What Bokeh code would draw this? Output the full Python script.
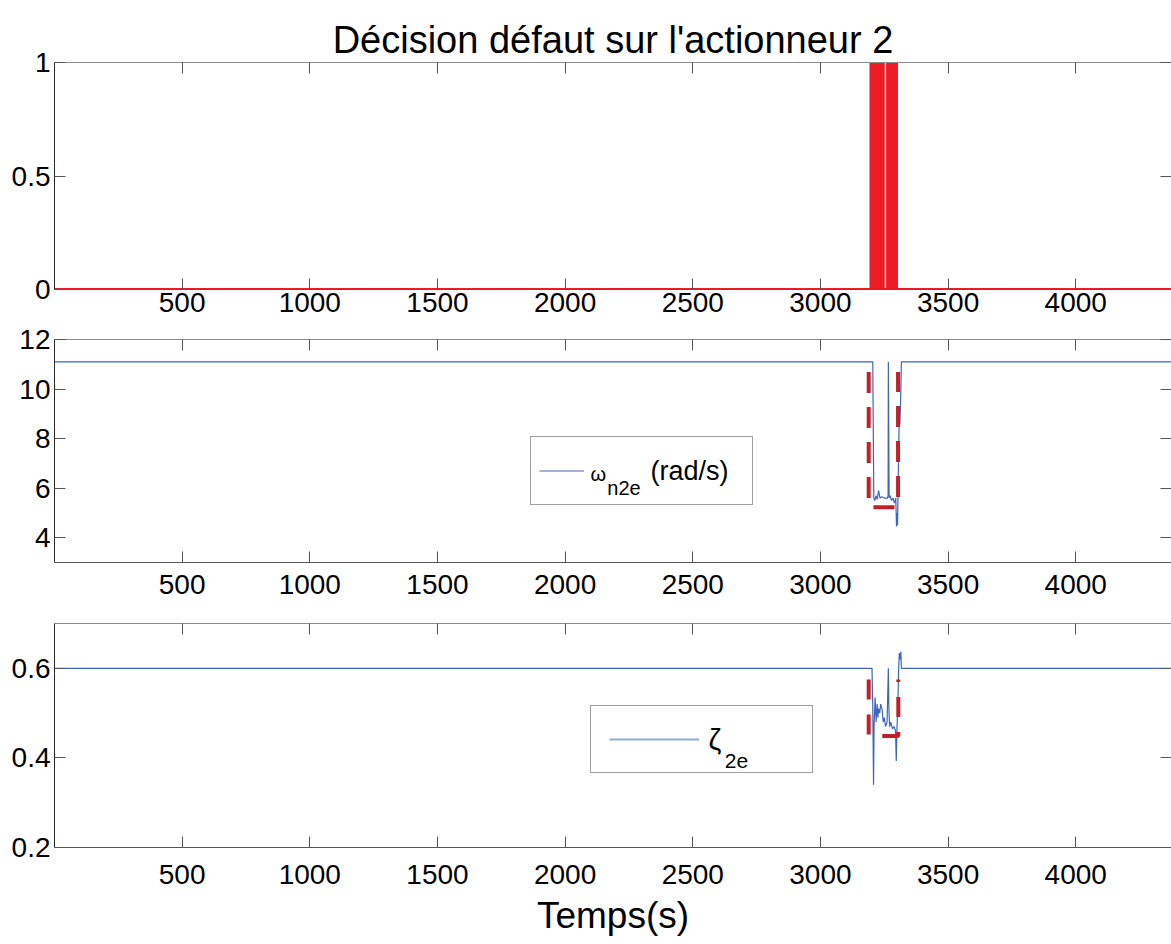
import numpy as np
from bokeh.plotting import figure
from bokeh.layouts import column
from bokeh.models import (Range1d, FixedTicker, LinearAxis, Legend, LegendItem,
                          Label, CustomLabelingPolicy)
from bokeh.core.properties import value
from bokeh.embed import file_html
from bokeh.resources import INLINE

FONT = "Liberation Sans"
TICK_SIZE = "28px"

# ---------------- data ----------------
x_ticks = [500, 1000, 1500, 2000, 2500, 3000, 3500, 4000]
t_end = 4375

# decision (fault on actuator 2)
t_dec = [0, 3198, 3198, 3246, 3246, 3263, 3263, 3298, 3298, 4375]
dec = [0, 0, 1, 1, 0, 0, 1, 1, 0, 0]
dec_ticks = [0, 0.5, 1]

# estimated natural frequency omega_n2e (rad/s)
t_omega = [0, 3205, 3206, 3209, 3213, 3218, 3222, 3228, 3233, 3241, 3250, 3262,
           3265, 3266, 3269, 3273, 3278, 3284, 3290, 3295, 3298, 3300, 3302,
           3305, 3308, 3311, 3314, 3317, 4375]
omega = [11.1, 11.1, 9.6, 5.6, 5.5, 5.7, 5.55, 5.9, 5.6, 5.65, 5.6, 5.6,
         5.7, 11.1, 5.6, 5.7, 5.5, 5.6, 5.4, 5.6, 4.45, 5.0, 4.5,
         6.6, 8.5, 8.6, 9.5, 11.1, 11.1]
omega_ticks = [4, 6, 8, 10, 12]
omega_box_t = [3189, 3189, 3304, 3304]
omega_box_v = [10.69, 5.23, 5.23, 10.69]

# estimated damping zeta_2e
t_zeta = [0, 3202, 3205, 3208, 3210, 3214, 3218, 3222, 3225, 3228, 3232, 3236,
          3241, 3246, 3250, 3255, 3261, 3266, 3268, 3271, 3276, 3282, 3288,
          3294, 3297, 3300, 3303, 3306, 3309, 3312, 3315, 3317, 4375]
zeta = [0.6, 0.6, 0.51, 0.34, 0.47, 0.535, 0.48, 0.52, 0.49, 0.51, 0.50, 0.52,
        0.51, 0.48, 0.49, 0.47, 0.48, 0.6, 0.51, 0.47, 0.48, 0.465, 0.47,
        0.46, 0.393, 0.47, 0.51, 0.594, 0.634, 0.62, 0.637, 0.6, 0.6]
zeta_ticks = [0.2, 0.4, 0.6]
zeta_box_t = [3189, 3189, 3305, 3305]
zeta_box_v = [0.575, 0.449, 0.449, 0.575]

RED = "#ee1c25"
BOXRED = "#c0202a"
BLUE = "#4066bc"
LIGHTBLUE = "#8fa9dc"

xr = Range1d(0, t_end)

HIDE_LABELS = CustomLabelingPolicy(code="""
for (const i of indices) { indices.unset(i) }
return indices
""")


def style_axis(ax):
    ax.major_tick_out = 0
    ax.major_tick_in = 11
    ax.minor_tick_in = 0
    ax.minor_tick_out = 0
    ax.major_tick_line_color = "#555555"
    ax.major_label_text_font = FONT
    ax.major_label_text_font_size = TICK_SIZE
    ax.major_label_text_color = "black"


def tick_only(ax):
    # mirrored box axis of MATLAB: ticks without labels
    ax.major_label_policy = HIDE_LABELS
    ax.major_label_text_font_size = "0px"
    ax.major_label_standoff = 0


def make_fig(height, y0, y1, yticks, btop, bbottom, bottom_stand):
    p = figure(width=1171, height=height, x_range=xr, y_range=Range1d(y0, y1),
               output_backend="svg", toolbar_location=None,
               x_axis_type=None, y_axis_type=None,
               min_border_left=54, min_border_right=0,
               min_border_top=btop, min_border_bottom=bbottom)
    p.outline_line_color = None
    p.background_fill_color = "white"
    p.border_fill_color = "white"

    xb = LinearAxis(ticker=FixedTicker(ticks=x_ticks))
    yl = LinearAxis(ticker=FixedTicker(ticks=yticks))
    xa = LinearAxis(ticker=FixedTicker(ticks=x_ticks))
    yr = LinearAxis(ticker=FixedTicker(ticks=yticks))
    for ax in (xb, yl, xa, yr):
        style_axis(ax)
    tick_only(xa)
    tick_only(yr)
    xb.major_label_standoff = bottom_stand
    xb.axis_line_color = "#555555"
    xa.axis_line_color = "#8c8c8c"
    yl.major_label_standoff = 4
    yl.axis_line_color = "#2a2a2a"
    yr.axis_line_color = None
    p.add_layout(xb, "below")
    p.add_layout(yl, "left")
    p.add_layout(xa, "above")
    p.add_layout(yr, "right")
    return p, xb


# ---------------- panel 1 : decision ----------------
p1, _ = make_fig(324, 0, 1, dec_ticks, 62, 35, 3)
p1.title.text = "Décision défaut sur l'actionneur 2"
p1.title.align = "center"
p1.title.text_font = FONT
p1.title.text_font_size = "38px"
p1.title.text_font_style = "normal"
p1.title.text_color = "black"
p1.title.standoff = 4
p1.varea(x=t_dec, y1=0, y2=dec, fill_color=RED)
p1.line(t_dec, dec, line_color=RED, line_width=3)

# ---------------- panel 2 : omega ----------------
p2, _ = make_fig(282, 3, 12, omega_ticks, 15, 44, 12)
r_om = p2.line(t_omega, omega, line_color=BLUE, line_width=1.2)
p2.line(omega_box_t, omega_box_v, line_color=BOXRED, line_width=4,
        line_dash="21 14")
leg2 = Legend(items=[LegendItem(label=value(" "), renderers=[r_om])],
              location=(476, 57), glyph_width=45, glyph_height=51, padding=8,
              label_standoff=5, label_width=155, label_height=20, spacing=0,
              margin=0, border_line_color="#444444", border_line_width=1,
              background_fill_alpha=0.0, label_text_font_size="10px")
p2.add_layout(leg2)
for x, y, txt, size in [(2099, 6.59, "ω", "20px"),
                        (2165, 5.99, "n2e", "20px"),
                        (2334, 6.71, "(rad/s)", "27px")]:
    p2.add_layout(Label(x=x, y=y, text=txt, text_font=FONT, level="overlay",
                        text_font_size=size, text_baseline="middle",
                        text_color="black"))

# ---------------- panel 3 : zeta ----------------
p3, xb3 = make_fig(338, 0.2, 0.7, zeta_ticks, 17, 97, 17)
p3.line(t_zeta, zeta, line_color=BLUE, line_width=1.2)
# legend proxy (no visible data) carrying the light legend-sample style
r_zl = p3.line(x=np.array([np.nan]), y=np.array([np.nan]),
               line_color=LIGHTBLUE, line_width=2)
p3.line(zeta_box_t, zeta_box_v, line_color=BOXRED, line_width=4,
        line_dash="20 15")
leg3 = Legend(items=[LegendItem(label=value(" "), renderers=[r_zl])],
              location=(536, 74), glyph_width=90, glyph_height=30, padding=18,
              label_standoff=5, label_width=90, label_height=20, spacing=0,
              margin=0, border_line_color="#444444", border_line_width=1,
              background_fill_alpha=0.0, label_text_font_size="10px")
p3.add_layout(leg3)
for x, y, txt, size in [(2562, 0.441, "ζ", "29px"),
                        (2625, 0.394, "2e", "21px")]:
    p3.add_layout(Label(x=x, y=y, text=txt, text_font=FONT, level="overlay",
                        text_font_size=size, text_baseline="middle",
                        text_color="black"))
xb3.axis_label = "Temps(s)"
xb3.axis_label_text_font = FONT
xb3.axis_label_text_font_size = "37px"
xb3.axis_label_text_font_style = "normal"
xb3.axis_label_standoff = 8
xb3.axis_label_text_color = "black"

layout = column(p1, p2, p3, spacing=0)
open("out.html", "w").write(file_html(layout, INLINE))
